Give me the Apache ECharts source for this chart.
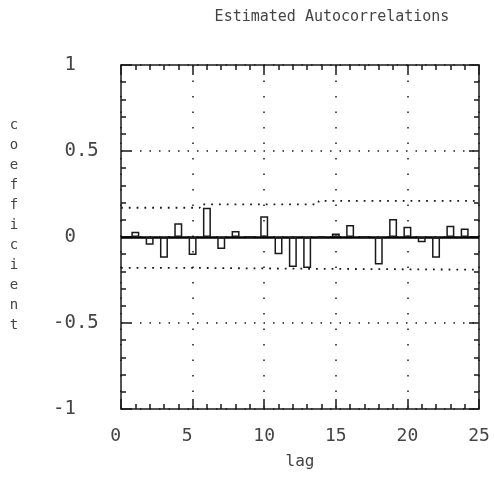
<!DOCTYPE html>
<html>
<head>
<meta charset="utf-8">
<script src="https://cdn.jsdelivr.net/npm/echarts@6/dist/echarts.min.js"></script>
<style>html,body{margin:0;padding:0;background:#fff;}#c{width:494px;height:496px;}</style>
</head>
<body>
<div id="c"></div>
<script>
const lags = [1,2,3,4,5,6,7,8,9,10,11,12,13,14,15,16,17,18,19,20,21,22,23,24];
const acf = [0.03,-0.045,-0.12,0.08,-0.105,0.17,-0.07,0.035,0.0,0.12,-0.10,-0.175,-0.18,0.0,0.02,0.07,0.0,-0.16,0.105,0.06,-0.03,-0.12,0.065,0.05];
const bandLags = [0, 5.5, 13.8, 25];
const bandUpper = [0.17, 0.19, 0.21, 0.21];
const bandLower = [-0.18, -0.185, -0.19, -0.19];
const xTicks = [0,5,10,15,20,25];
const yTicks = [-1,-0.5,0,0.5,1];
const yName = 'coefficient';

const FONT = 'DejaVu Sans Mono';
const TXT = '#444';
const LINE = '#1a1a1a';

const chart = echarts.init(document.getElementById('c'), null, {renderer:'canvas'});
const axisCommon = {
  axisLine:{show:true, onZero:false, lineStyle:{color:LINE, width:1.5}},
  axisTick:{show:true, inside:true, length:10, lineStyle:{color:LINE, width:1.5}},
  minorTick:{show:true, splitNumber:5, length:5, lineStyle:{color:LINE, width:1.5}}
};
chart.setOption({
  animation:false,
  backgroundColor:'#fff',
  title:{text:'Estimated Autocorrelations', left:327, top:5, textAlign:'center',
    textStyle:{fontFamily:FONT, fontSize:15, fontWeight:'normal', color:TXT}},
  graphic:[{type:'text', x:14, y:225,
    style:{text:yName.split('').join('\n'), fontFamily:FONT, fontSize:14, lineHeight:20,
      fill:TXT, align:'center', verticalAlign:'middle'}}],
  grid:{left:121, right:15, top:65, bottom:87},
  xAxis:[
    Object.assign({type:'value', min:xTicks[0], max:xTicks[xTicks.length-1], interval:5, position:'bottom',
      name:'lag', nameLocation:'middle', nameGap:45,
      nameTextStyle:{fontFamily:FONT, fontSize:16, color:TXT},
      axisLabel:{show:true, margin:18, fontFamily:FONT, fontSize:18, color:TXT,
        formatter:v=> (v<10 ? v+' ' : ''+v)},
      splitLine:{show:true, lineStyle:{color:LINE, width:1.5, type:[1.5,14]}}
    }, axisCommon),
    Object.assign({type:'value', min:xTicks[0], max:xTicks[xTicks.length-1], interval:5, position:'top',
      axisLabel:{show:false}, splitLine:{show:false}}, axisCommon)
  ],
  yAxis:[
    Object.assign({type:'value', min:yTicks[0], max:yTicks[yTicks.length-1], interval:0.5, position:'left',
      axisLabel:{show:true, margin:68, align:'left', fontFamily:FONT, fontSize:19, color:TXT,
        formatter:v=> (v<0 ? ''+v : ' '+v)},
      splitLine:{show:true, lineStyle:{color:LINE, width:1.5, type:[1.5,8]}}
    }, axisCommon),
    Object.assign({type:'value', min:yTicks[0], max:yTicks[yTicks.length-1], interval:0.5, position:'right',
      axisLabel:{show:false}, splitLine:{show:false}}, axisCommon)
  ],
  series:[
    {type:'line', name:'upper', step:'end', symbol:'none', xAxisIndex:0, yAxisIndex:0,
      data:bandLags.map((x,i)=>[x,bandUpper[i]]),
      lineStyle:{color:LINE, width:1.8, type:[1.8,6]}},
    {type:'line', name:'lower', step:'end', symbol:'none', xAxisIndex:0, yAxisIndex:0,
      data:bandLags.map((x,i)=>[x,bandLower[i]]),
      lineStyle:{color:LINE, width:1.8, type:[1.8,6]}},
    {type:'bar', name:'acf', xAxisIndex:0, yAxisIndex:0, barWidth:8, z:5,
      data:lags.map((l,i)=>[l,acf[i]]),
      itemStyle:{color:'rgba(255,255,255,0)', borderColor:LINE, borderWidth:1.5},
      markLine:{silent:true, symbol:'none', label:{show:false},
        lineStyle:{color:'#000', width:2.5, type:'solid'},
        data:[{yAxis:0}]}}
  ]
});
</script>
</body>
</html>
